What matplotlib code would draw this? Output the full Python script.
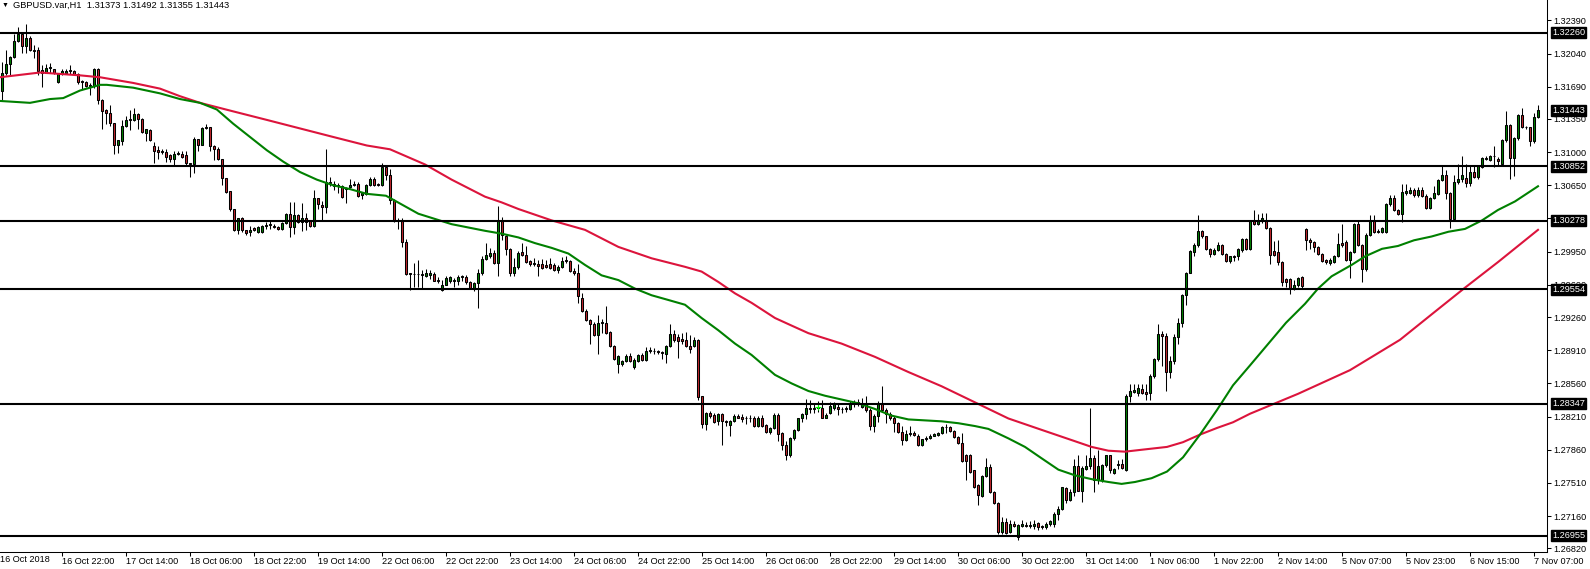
import matplotlib.pyplot as plt
from matplotlib import transforms

plt.rcParams['font.family'] = ['Liberation Sans', 'DejaVu Sans']

# Hourly GBPUSD bars, first bar is bar 1 (bar 0 sits just left of the chart edge)
opens = [
    1.3164, 1.3183, 1.3193, 1.3200, 1.3217, 1.3225, 1.3212, 1.3220, 1.3208, 1.3208,
    1.3187, 1.3184, 1.3189, 1.3188, 1.3174, 1.3184, 1.3183, 1.3186, 1.3186, 1.3182,
    1.3175, 1.3174, 1.3171, 1.3170, 1.3188, 1.3155, 1.3144, 1.3141, 1.3131, 1.3107,
    1.3112, 1.3128, 1.3134, 1.3134, 1.3140, 1.3135, 1.3120, 1.3123, 1.3106, 1.3102,
    1.3101, 1.3100, 1.3097, 1.3093, 1.3098, 1.3098, 1.3097, 1.3089, 1.3088, 1.3114,
    1.3108, 1.3125, 1.3126, 1.3106, 1.3103, 1.3093, 1.3073, 1.3059, 1.3040, 1.3018,
    1.3031, 1.3018, 1.3016, 1.3020, 1.3016, 1.3016, 1.3022, 1.3023, 1.3022, 1.3021,
    1.3019, 1.3025, 1.3035, 1.3021, 1.3034, 1.3026, 1.3030, 1.3027, 1.3022, 1.3052,
    1.3044, 1.3042, 1.3068, 1.3064, 1.3064, 1.3064, 1.3061, 1.3063, 1.3065, 1.3066,
    1.3055, 1.3056, 1.3065, 1.3072, 1.3066, 1.3065, 1.3084, 1.3076, 1.3050, 1.3028,
    1.3027, 1.3005, 1.2972, 1.2971, 1.2971, 1.2971, 1.2969, 1.2970, 1.2971, 1.2965,
    1.2955, 1.2960, 1.2964, 1.2965, 1.2964, 1.2968, 1.2968, 1.2963, 1.2957, 1.2962,
    1.2972, 1.2987, 1.2990, 1.2994, 1.2983, 1.3027, 1.3012, 1.2998, 1.2973, 1.2979,
    1.2995, 1.2991, 1.2985, 1.2982, 1.2982, 1.2982, 1.2981, 1.2982, 1.2981, 1.2976,
    1.2979, 1.2985, 1.2985, 1.2975, 1.2972, 1.2946, 1.2932, 1.2923, 1.2919, 1.2907,
    1.2920, 1.2920, 1.2910, 1.2895, 1.2877, 1.2876, 1.2880, 1.2885, 1.2873, 1.2880,
    1.2886, 1.2881, 1.2890, 1.2890, 1.2890, 1.2889, 1.2887, 1.2895, 1.2908, 1.2905,
    1.2903, 1.2902, 1.2895, 1.2895, 1.2902, 1.2843, 1.2813, 1.2825, 1.2823, 1.2816,
    1.2824, 1.2816, 1.2812, 1.2816, 1.2822, 1.2821, 1.2820, 1.2820, 1.2820, 1.2811,
    1.2819, 1.2812, 1.2805, 1.2809, 1.2823, 1.2804, 1.2791, 1.2780, 1.2798, 1.2807,
    1.2819, 1.2824, 1.2830, 1.2829, 1.2830, 1.2830, 1.2820, 1.2825, 1.2830, 1.2831,
    1.2829, 1.2830, 1.2829, 1.2834, 1.2836, 1.2831, 1.2834, 1.2828, 1.2811, 1.2822,
    1.2834, 1.2828, 1.2824, 1.2819, 1.2814, 1.2805, 1.2796, 1.2803, 1.2804, 1.2801,
    1.2791, 1.2797, 1.2798, 1.2801, 1.2802, 1.2804, 1.2810, 1.2810, 1.2806, 1.2799,
    1.2793, 1.2781, 1.2781, 1.2765, 1.2749, 1.2737, 1.2758, 1.2768, 1.2741, 1.2730,
    1.2699, 1.2710, 1.2699, 1.2708, 1.2694, 1.2706, 1.2707, 1.2706, 1.2706, 1.2709,
    1.2706, 1.2704, 1.2708, 1.2708, 1.2718, 1.2723, 1.2746, 1.2733, 1.2741, 1.2769,
    1.2743, 1.2766, 1.2769, 1.2777, 1.2754, 1.2754, 1.2770, 1.2780, 1.2761, 1.2771,
    1.2771, 1.2765, 1.2843, 1.2847, 1.2846, 1.2850, 1.2847, 1.2846, 1.2864, 1.2882,
    1.2908, 1.2906, 1.2868, 1.2880, 1.2905, 1.2920, 1.2949, 1.2973, 1.2995, 1.3002,
    1.3017, 1.3011, 1.2998, 1.2993, 1.2997, 1.3002, 1.2993, 1.2985, 1.2989, 1.2990,
    1.2997, 1.3008, 1.2998, 1.3027, 1.3024, 1.3027, 1.3027, 1.3020, 1.2996, 1.2995,
    1.2984, 1.2966, 1.2966, 1.2957, 1.2960, 1.2968, 1.3019, 1.3007, 1.3005, 1.3000,
    1.2993, 1.2986, 1.2983, 1.2984, 1.2990, 1.3004, 1.3005, 1.2986, 1.2995, 1.3024,
    1.3002, 1.2977, 1.3013, 1.3027, 1.3016, 1.3016, 1.3016, 1.3045, 1.3052, 1.3039,
    1.3035, 1.3057, 1.3057, 1.3060, 1.3055, 1.3060, 1.3054, 1.3041, 1.3052, 1.3056,
    1.3071, 1.3076, 1.3057, 1.3029, 1.3068, 1.3072, 1.3073, 1.3067, 1.3079, 1.3074,
    1.3084, 1.3093, 1.3092, 1.3096, 1.3093, 1.3088, 1.3113, 1.3129, 1.3094, 1.3115,
    1.3139, 1.3127, 1.3126, 1.3112, 1.31373,
]
highs = [
    1.3195, 1.3208, 1.3201, 1.3225, 1.3232, 1.3227, 1.3235, 1.3222, 1.3213, 1.3211,
    1.3192, 1.3193, 1.3194, 1.3188, 1.3183, 1.3188, 1.3188, 1.3192, 1.3187, 1.3183,
    1.3176, 1.3175, 1.3173, 1.3189, 1.3189, 1.3156, 1.3146, 1.3150, 1.3131, 1.3113,
    1.3134, 1.3138, 1.3144, 1.3147, 1.3141, 1.3136, 1.3124, 1.3124, 1.3111, 1.3106,
    1.3103, 1.3103, 1.3098, 1.3101, 1.3101, 1.3101, 1.3101, 1.3089, 1.3116, 1.3114,
    1.3127, 1.3130, 1.3127, 1.3107, 1.3105, 1.3093, 1.3073, 1.3059, 1.3040, 1.3031,
    1.3032, 1.3018, 1.3022, 1.3021, 1.3022, 1.3023, 1.3026, 1.3027, 1.3024, 1.3022,
    1.3026, 1.3036, 1.3047, 1.3047, 1.3035, 1.3046, 1.3036, 1.3028, 1.3060, 1.3052,
    1.3048, 1.3103, 1.3074, 1.3070, 1.3067, 1.3065, 1.3063, 1.3072, 1.3070, 1.3068,
    1.3058, 1.3066, 1.3074, 1.3074, 1.3067, 1.3089, 1.3085, 1.3082, 1.3051, 1.3030,
    1.3030, 1.3008, 1.2973, 1.2983, 1.2986, 1.2976, 1.2977, 1.2976, 1.2974, 1.2968,
    1.2965, 1.2969, 1.2969, 1.2967, 1.2970, 1.2970, 1.2970, 1.2964, 1.2963, 1.2977,
    1.2990, 1.3004, 1.2999, 1.2997, 1.3043, 1.3032, 1.3013, 1.2999, 1.2988, 1.2996,
    1.3004, 1.3001, 1.2986, 1.2988, 1.2986, 1.2987, 1.2986, 1.2988, 1.2983, 1.2981,
    1.2989, 1.2990, 1.2986, 1.2978, 1.2982, 1.2951, 1.2934, 1.2924, 1.2921, 1.2928,
    1.2924, 1.2938, 1.2911, 1.2896, 1.2886, 1.2881, 1.2887, 1.2888, 1.2883, 1.2887,
    1.2888, 1.2894, 1.2894, 1.2893, 1.2891, 1.2890, 1.2896, 1.2919, 1.2912, 1.2908,
    1.2909, 1.2910, 1.2907, 1.2905, 1.2903, 1.2843, 1.2826, 1.2827, 1.2825, 1.2825,
    1.2825, 1.2817, 1.2817, 1.2824, 1.2824, 1.2824, 1.2822, 1.2823, 1.2822, 1.2822,
    1.2823, 1.2813, 1.2810, 1.2825, 1.2825, 1.2805, 1.2795, 1.2799, 1.2808, 1.2820,
    1.2825, 1.2840, 1.2839, 1.2834, 1.2837, 1.2839, 1.2825, 1.2836, 1.2836, 1.2835,
    1.2831, 1.2832, 1.2837, 1.2838, 1.2840, 1.2841, 1.2843, 1.2830, 1.2824, 1.2837,
    1.2853, 1.2830, 1.2826, 1.2822, 1.2815, 1.2811, 1.2807, 1.2811, 1.2806, 1.2803,
    1.2797, 1.2800, 1.2803, 1.2804, 1.2805, 1.2811, 1.2813, 1.2811, 1.2807, 1.2800,
    1.2804, 1.2782, 1.2782, 1.2765, 1.2750, 1.2759, 1.2777, 1.2771, 1.2742, 1.2731,
    1.2715, 1.2714, 1.2712, 1.2711, 1.2708, 1.2712, 1.2710, 1.2711, 1.2712, 1.2710,
    1.2707, 1.2710, 1.2712, 1.2720, 1.2727, 1.2747, 1.2747, 1.2745, 1.2776, 1.2781,
    1.2769, 1.2781, 1.2830, 1.2780, 1.2786, 1.2771, 1.2781, 1.2781, 1.2767, 1.2775,
    1.2776, 1.2845, 1.2855, 1.2855, 1.2855, 1.2855, 1.2855, 1.2866, 1.2883, 1.2919,
    1.2911, 1.2909, 1.2885, 1.2908, 1.2925, 1.2950, 1.2974, 1.2997, 1.3004, 1.3034,
    1.3018, 1.3012, 1.2999, 1.2999, 1.3005, 1.3003, 1.2994, 1.2990, 1.2991, 1.2999,
    1.3009, 1.3009, 1.3028, 1.3039, 1.3035, 1.3036, 1.3036, 1.3021, 1.3006, 1.3007,
    1.2985, 1.2967, 1.2967, 1.2965, 1.2968, 1.2969, 1.3020, 1.3009, 1.3006, 1.3001,
    1.2994, 1.2987, 1.2988, 1.2991, 1.3015, 1.3024, 1.3007, 1.2996, 1.3025, 1.3027,
    1.3003, 1.3015, 1.3034, 1.3034, 1.3019, 1.3021, 1.3046, 1.3055, 1.3055, 1.3040,
    1.3066, 1.3066, 1.3063, 1.3062, 1.3063, 1.3063, 1.3056, 1.3053, 1.3064, 1.3072,
    1.3085, 1.3081, 1.3058, 1.3076, 1.3088, 1.3096, 1.3087, 1.3085, 1.3085, 1.3086,
    1.3095, 1.3096, 1.3097, 1.3106, 1.3095, 1.3114, 1.3143, 1.3130, 1.3116, 1.3140,
    1.3147, 1.3128, 1.3127, 1.3141, 1.31492,
]
lows = [
    1.3155, 1.3181, 1.3181, 1.3199, 1.3216, 1.3205, 1.3205, 1.3207, 1.3199, 1.3181,
    1.3169, 1.3184, 1.3183, 1.3182, 1.3173, 1.3181, 1.3182, 1.3182, 1.3181, 1.3172,
    1.3167, 1.3169, 1.3160, 1.3168, 1.3151, 1.3124, 1.3130, 1.3128, 1.3098, 1.3099,
    1.3107, 1.3126, 1.3123, 1.3133, 1.3124, 1.3120, 1.3112, 1.3112, 1.3089, 1.3093,
    1.3098, 1.3090, 1.3090, 1.3086, 1.3097, 1.3094, 1.3085, 1.3074, 1.3078, 1.3101,
    1.3107, 1.3124, 1.3101, 1.3092, 1.3092, 1.3065, 1.3057, 1.3038, 1.3017, 1.3014,
    1.3016, 1.3013, 1.3012, 1.3017, 1.3015, 1.3015, 1.3019, 1.3019, 1.3020, 1.3018,
    1.3018, 1.3024, 1.3010, 1.3014, 1.3025, 1.3017, 1.3018, 1.3021, 1.3021, 1.3040,
    1.3028, 1.3036, 1.3064, 1.3060, 1.3057, 1.3052, 1.3046, 1.3062, 1.3064, 1.3053,
    1.3051, 1.3055, 1.3064, 1.3064, 1.3064, 1.3064, 1.3071, 1.3045, 1.3026, 1.3019,
    1.3000, 1.2970, 1.2955, 1.2958, 1.2958, 1.2957, 1.2968, 1.2966, 1.2964, 1.2962,
    1.2953, 1.2960, 1.2962, 1.2958, 1.2960, 1.2964, 1.2961, 1.2956, 1.2954, 1.2936,
    1.2970, 1.2986, 1.2988, 1.2982, 1.2969, 1.3007, 1.2992, 1.2969, 1.2969, 1.2977,
    1.2990, 1.2983, 1.2980, 1.2980, 1.2969, 1.2977, 1.2978, 1.2977, 1.2975, 1.2973,
    1.2978, 1.2983, 1.2974, 1.2970, 1.2941, 1.2931, 1.2922, 1.2898, 1.2906, 1.2887,
    1.2909, 1.2908, 1.2894, 1.2881, 1.2867, 1.2874, 1.2879, 1.2879, 1.2871, 1.2879,
    1.2880, 1.2880, 1.2888, 1.2887, 1.2887, 1.2882, 1.2878, 1.2894, 1.2900, 1.2883,
    1.2898, 1.2894, 1.2888, 1.2894, 1.2839, 1.2809, 1.2807, 1.2820, 1.2814, 1.2812,
    1.2791, 1.2811, 1.2800, 1.2815, 1.2819, 1.2815, 1.2813, 1.2815, 1.2810, 1.2810,
    1.2810, 1.2804, 1.2803, 1.2808, 1.2795, 1.2786, 1.2775, 1.2778, 1.2796, 1.2806,
    1.2815, 1.2818, 1.2825, 1.2825, 1.2826, 1.2819, 1.2819, 1.2824, 1.2828, 1.2823,
    1.2825, 1.2826, 1.2828, 1.2831, 1.2832, 1.2830, 1.2826, 1.2807, 1.2805, 1.2815,
    1.2826, 1.2814, 1.2817, 1.2805, 1.2804, 1.2791, 1.2795, 1.2800, 1.2800, 1.2790,
    1.2790, 1.2795, 1.2797, 1.2800, 1.2801, 1.2803, 1.2804, 1.2805, 1.2798, 1.2792,
    1.2773, 1.2754, 1.2762, 1.2746, 1.2728, 1.2736, 1.2757, 1.2740, 1.2729, 1.2697,
    1.2697, 1.2697, 1.2698, 1.2705, 1.2691, 1.2705, 1.2704, 1.2703, 1.2702, 1.2701,
    1.2702, 1.2702, 1.2706, 1.2705, 1.2712, 1.2722, 1.2730, 1.2732, 1.2737, 1.2742,
    1.2731, 1.2765, 1.2766, 1.2741, 1.2750, 1.2752, 1.2768, 1.2762, 1.2760, 1.2766,
    1.2766, 1.2764, 1.2836, 1.2846, 1.2843, 1.2845, 1.2838, 1.2838, 1.2862, 1.2880,
    1.2874, 1.2848, 1.2862, 1.2876, 1.2898, 1.2915, 1.2939, 1.2972, 1.2990, 1.3000,
    1.3009, 1.2997, 1.2989, 1.2992, 1.2996, 1.2992, 1.2984, 1.2983, 1.2985, 1.2986,
    1.2995, 1.2997, 1.2997, 1.3023, 1.3023, 1.3025, 1.3019, 1.2982, 1.2990, 1.2981,
    1.2959, 1.2958, 1.2950, 1.2955, 1.2958, 1.2957, 1.2997, 1.2998, 1.2995, 1.2992,
    1.2984, 1.2982, 1.2981, 1.2983, 1.2989, 1.3000, 1.2985, 1.2967, 1.2994, 1.3001,
    1.2963, 1.2975, 1.3011, 1.3015, 1.3015, 1.3015, 1.3015, 1.3043, 1.3038, 1.3034,
    1.3026, 1.3055, 1.3056, 1.3053, 1.3053, 1.3053, 1.3040, 1.3040, 1.3051, 1.3055,
    1.3070, 1.3051, 1.3020, 1.3028, 1.3066, 1.3069, 1.3063, 1.3064, 1.3073, 1.3072,
    1.3083, 1.3092, 1.3091, 1.3084, 1.3086, 1.3086, 1.3111, 1.3072, 1.3075, 1.3113,
    1.3125, 1.3124, 1.3106, 1.3110, 1.31355,
]
closes = [
    1.3183, 1.3193, 1.3200, 1.3217, 1.3225, 1.3212, 1.3220, 1.3208, 1.3207, 1.3186,
    1.3184, 1.3189, 1.3190, 1.3183, 1.3182, 1.3186, 1.3186, 1.3187, 1.3182, 1.3174,
    1.3174, 1.3170, 1.3170, 1.3188, 1.3155, 1.3143, 1.3141, 1.3131, 1.3107, 1.3113,
    1.3128, 1.3134, 1.3135, 1.3140, 1.3135, 1.3121, 1.3124, 1.3113, 1.3101, 1.3100,
    1.3100, 1.3095, 1.3093, 1.3098, 1.3099, 1.3095, 1.3089, 1.3088, 1.3114, 1.3108,
    1.3125, 1.3126, 1.3106, 1.3103, 1.3093, 1.3073, 1.3058, 1.3040, 1.3018, 1.3031,
    1.3018, 1.3015, 1.3018, 1.3018, 1.3021, 1.3022, 1.3023, 1.3024, 1.3021, 1.3019,
    1.3025, 1.3035, 1.3021, 1.3034, 1.3026, 1.3030, 1.3026, 1.3022, 1.3052, 1.3045,
    1.3042, 1.3068, 1.3067, 1.3066, 1.3065, 1.3053, 1.3062, 1.3065, 1.3066, 1.3054,
    1.3057, 1.3065, 1.3072, 1.3065, 1.3065, 1.3084, 1.3076, 1.3050, 1.3027, 1.3027,
    1.3005, 1.2971, 1.2971, 1.2971, 1.2971, 1.2970, 1.2973, 1.2973, 1.2964, 1.2964,
    1.2960, 1.2967, 1.2968, 1.2964, 1.2968, 1.2969, 1.2963, 1.2957, 1.2962, 1.2972,
    1.2987, 1.2991, 1.2994, 1.2983, 1.3027, 1.3013, 1.2998, 1.2973, 1.2979, 1.2994,
    1.2991, 1.2984, 1.2982, 1.2983, 1.2980, 1.2978, 1.2979, 1.2978, 1.2976, 1.2979,
    1.2985, 1.2986, 1.2975, 1.2972, 1.2948, 1.2932, 1.2923, 1.2919, 1.2907, 1.2920,
    1.2921, 1.2909, 1.2895, 1.2882, 1.2885, 1.2880, 1.2885, 1.2880, 1.2881, 1.2886,
    1.2881, 1.2890, 1.2891, 1.2890, 1.2889, 1.2888, 1.2895, 1.2908, 1.2902, 1.2901,
    1.2901, 1.2895, 1.2892, 1.2902, 1.2842, 1.2813, 1.2825, 1.2822, 1.2815, 1.2824,
    1.2816, 1.2815, 1.2816, 1.2822, 1.2820, 1.2818, 1.2819, 1.2819, 1.2811, 1.2819,
    1.2811, 1.2805, 1.2809, 1.2823, 1.2803, 1.2791, 1.2780, 1.2798, 1.2807, 1.2819,
    1.2824, 1.2830, 1.2829, 1.2830, 1.2831, 1.2820, 1.2823, 1.2832, 1.2834, 1.2829,
    1.2829, 1.2829, 1.2834, 1.2836, 1.2834, 1.2834, 1.2828, 1.2811, 1.2822, 1.2834,
    1.2828, 1.2824, 1.2819, 1.2814, 1.2805, 1.2796, 1.2803, 1.2804, 1.2802, 1.2791,
    1.2797, 1.2798, 1.2801, 1.2803, 1.2804, 1.2810, 1.2810, 1.2806, 1.2799, 1.2793,
    1.2774, 1.2774, 1.2763, 1.2747, 1.2738, 1.2758, 1.2768, 1.2741, 1.2730, 1.2699,
    1.2710, 1.2698, 1.2708, 1.2706, 1.2707, 1.2708, 1.2706, 1.2707, 1.2708, 1.2704,
    1.2705, 1.2708, 1.2711, 1.2718, 1.2724, 1.2747, 1.2733, 1.2741, 1.2769, 1.2743,
    1.2767, 1.2769, 1.2777, 1.2754, 1.2769, 1.2770, 1.2780, 1.2765, 1.2766, 1.2770,
    1.2767, 1.2843, 1.2848, 1.2849, 1.2851, 1.2846, 1.2845, 1.2864, 1.2882, 1.2908,
    1.2906, 1.2868, 1.2880, 1.2905, 1.2920, 1.2949, 1.2973, 1.2996, 1.3002, 1.3017,
    1.3011, 1.2998, 1.2993, 1.2997, 1.3002, 1.2993, 1.2985, 1.2990, 1.2990, 1.2998,
    1.3008, 1.2998, 1.3027, 1.3024, 1.3027, 1.3030, 1.3020, 1.2991, 1.2991, 1.2984,
    1.2963, 1.2963, 1.2957, 1.2960, 1.2967, 1.2959, 1.3007, 1.3005, 1.3000, 1.2993,
    1.2985, 1.2984, 1.2986, 1.2990, 1.3003, 1.3002, 1.2986, 1.2995, 1.3024, 1.3002,
    1.2977, 1.3013, 1.3027, 1.3016, 1.3017, 1.3020, 1.3045, 1.3052, 1.3039, 1.3035,
    1.3058, 1.3059, 1.3060, 1.3055, 1.3060, 1.3054, 1.3041, 1.3052, 1.3057, 1.3071,
    1.3076, 1.3057, 1.3029, 1.3068, 1.3072, 1.3076, 1.3067, 1.3079, 1.3074, 1.3085,
    1.3094, 1.3094, 1.3096, 1.3096, 1.3091, 1.3113, 1.3129, 1.3094, 1.3115, 1.3139,
    1.3126, 1.3126, 1.3112, 1.3137, 1.31443,
]

# moving averages (bar position, price)
red_ma_x = [0.5, 10.5, 20.5, 25.5, 33.8, 40.5, 45.5, 50.5, 58.8, 67.2, 75.5, 83.8, 92.2, 98,
            106.75, 113.4, 121.75, 125.9, 130.1, 138.4, 146.75, 155.1, 163.4, 171.75, 175.9,
            180.1, 184.25, 188.4, 194.25, 198.4, 202.6, 210.9, 219.25, 227.6, 235.9, 244.25,
            252.6, 260.9, 269.25, 273.4, 277.6, 281.75, 285.9, 292.25, 296.25, 300.5, 304.75,
            308.75, 313, 325, 338, 350.5, 358.75, 366.75, 375, 385]
red_ma_y = [1.3179, 1.3184, 1.3181, 1.3179, 1.3173, 1.3167, 1.3159, 1.3152, 1.3143, 1.3134,
            1.3125, 1.3116, 1.3107, 1.3103, 1.3087, 1.3071, 1.3053, 1.3047, 1.3040, 1.3028,
            1.3018, 1.3000, 1.2988, 1.2979, 1.2974, 1.2963, 1.2951, 1.2941, 1.2925, 1.2917,
            1.2909, 1.2898, 1.2884, 1.2868, 1.2853, 1.2836, 1.2819, 1.2807, 1.2795, 1.2789,
            1.2785, 1.2784, 1.2786, 1.2789, 1.2794, 1.2802, 1.2809, 1.2815, 1.2824, 1.2845,
            1.2870, 1.2902, 1.2930, 1.2957, 1.2984, 1.3018]
green_ma_x = [0.5, 8, 13, 16.3, 20.5, 25.5, 27.2, 33.8, 40.5, 45.5, 50.5, 54.7, 58.8, 63, 67.2,
              71.3, 75.5, 79.7, 83.8, 88, 92.2, 97, 105.1, 113.4, 121.75, 125.9, 130.1, 134.25,
              138.4, 142.6, 146.75, 150.9, 155.1, 159.25, 163.4, 167.6, 171.75, 175.9, 180.1,
              184.25, 188.4, 194.25, 198.4, 202.6, 206.75, 210.9, 215.1, 219.25, 223.4, 227.6,
              231.75, 235.9, 240.1, 244.25, 247.6, 252.6, 256.75, 260.9, 265.1, 269.25, 273.4,
              277.6, 280.9, 284.25, 288.4, 292.25, 296.25, 300.5, 304.75, 308.75, 313, 318,
              322, 326.75, 330, 333.4, 338.4, 341.75, 346, 350, 354, 358.4, 362.6, 366.75,
              371, 375, 379.25, 385]
green_ma_y = [1.3154, 1.3152, 1.3156, 1.3157, 1.3165, 1.3171, 1.3171, 1.3168, 1.3162, 1.3156,
              1.3152, 1.3145, 1.3130, 1.3116, 1.3102, 1.3090, 1.3079, 1.3071, 1.3065, 1.3061,
              1.3056, 1.3054, 1.3035, 1.3024, 1.3017, 1.3014, 1.3010, 1.3004, 1.2999, 1.2993,
              1.2981, 1.2970, 1.2965, 1.2956, 1.2949, 1.2944, 1.2939, 1.2925, 1.2912, 1.2898,
              1.2886, 1.2865, 1.2856, 1.2848, 1.2843, 1.2839, 1.2835, 1.2829, 1.2822, 1.2818,
              1.2817, 1.2816, 1.2814, 1.2811, 1.2808, 1.2798, 1.2789, 1.2777, 1.2765, 1.2759,
              1.2755, 1.2752, 1.2750, 1.2752, 1.2756, 1.2763, 1.2778, 1.2802, 1.2828, 1.2854,
              1.2875, 1.2900, 1.2920, 1.2940, 1.2956, 1.2969, 1.2981, 1.2990, 1.2998, 1.3001,
              1.3007, 1.3011, 1.3016, 1.3019, 1.3028, 1.3039, 1.3048, 1.3064]

levels = [1.32260, 1.30852, 1.30278, 1.29554, 1.28347, 1.26955]
price_ticks = [1.32390, 1.32040, 1.31690, 1.31350, 1.31000, 1.30650, 1.30300, 1.29950,
               1.29600, 1.29260, 1.28910, 1.28560, 1.28210, 1.27860, 1.27510, 1.27160, 1.26820]
time_labels = ['16 Oct 2018', '16 Oct 22:00', '17 Oct 14:00', '18 Oct 06:00', '18 Oct 22:00',
               '19 Oct 14:00', '22 Oct 06:00', '22 Oct 22:00', '23 Oct 14:00', '24 Oct 06:00',
               '24 Oct 22:00', '25 Oct 14:00', '26 Oct 06:00', '28 Oct 22:00', '29 Oct 14:00',
               '30 Oct 06:00', '30 Oct 22:00', '31 Oct 14:00', '1 Nov 06:00', '1 Nov 22:00',
               '2 Nov 14:00', '5 Nov 07:00', '5 Nov 23:00', '6 Nov 15:00', '7 Nov 07:00']
symbol = 'GBPUSD.var,H1'

W, H = 1590, 569
fig = plt.figure(figsize=(W / 100, H / 100), dpi=100)
ax = fig.add_axes([0, 17 / H, 1547 / W, 552 / H])

bull = '#008000'
bear = '#C0262C'
bars = list(range(1, len(closes) + 1))

# wicks
ax.vlines(bars, [min(l, o, c) for l, o, c in zip(lows, opens, closes)],
          [max(h, o, c) for h, o, c in zip(highs, opens, closes)],
          colors='black', linewidth=0.75, zorder=2)
# bodies
bottoms = [min(o, c) for o, c in zip(opens, closes)]
heights = [max(abs(c - o), 0.000005) for o, c in zip(opens, closes)]
colors = [bull if c > o else (bear if c < o else 'black') for o, c in zip(opens, closes)]
ax.bar(bars, heights, bottom=bottoms, width=0.5, color=colors, edgecolor='black',
       linewidth=0.75, zorder=3)

# moving averages
ax.plot(red_ma_x, red_ma_y, color='#DC143C', linewidth=1.5, zorder=4)
ax.plot(green_ma_x, green_ma_y, color='#008000', linewidth=1.5, zorder=4)

# marker left on the chart
ax.plot([205], [1.2831], marker='+', color='#00FF00', markersize=4, markeredgewidth=0.8, zorder=5)

# horizontal levels
for lv in levels:
    ax.axhline(lv, color='black', linewidth=1.5, zorder=5)

ax.set_xlim(0.5, 387.25)
ax.set_ylim(1.32605 - 0.0001055 * 552, 1.32605)

for side in ['left', 'top']:
    ax.spines[side].set_visible(False)
for side in ['right', 'bottom']:
    ax.spines[side].set_linewidth(0.75)

# price axis on the right
ax.yaxis.tick_right()
ax.set_yticks(price_ticks)
ax.set_yticklabels(['%.5f' % t for t in price_ticks])
ax.tick_params(axis='y', length=3, width=0.75, pad=1.5, labelsize=6.6, colors='black')

# time axis
pos = [16 * k for k in range(len(time_labels))]
ax.set_xticks(pos[1:])
ax.set_xticklabels(time_labels[1:], ha='left')
ax.tick_params(axis='x', length=3, width=0.75, pad=0.5, labelsize=6.6)
ax.text(0.5, -3.5 / 552, time_labels[0], transform=ax.get_xaxis_transform(),
        ha='left', va='top', fontsize=6.6, clip_on=False)

# black price boxes on the right
box_tr = transforms.blended_transform_factory(fig.transFigure, ax.transData)
for p in levels + [closes[-1]]:
    ax.text(1552 / W, p, '%.5f' % p, transform=box_tr, ha='left', va='center',
            fontsize=6.6, color='white', clip_on=False, zorder=10,
            bbox=dict(boxstyle='square,pad=0.12', facecolor='black', edgecolor='black'))

# header
fig.text(2 / W, 1 - 5 / H, '\u25bc', fontsize=5, ha='left', va='center', color='black')
fig.text(13 / W, 1 - 5 / H,
         '%s  %.5f %.5f %.5f %.5f' % (symbol, opens[-1], highs[-1], lows[-1], closes[-1]),
         fontsize=6.7, ha='left', va='center', color='black')

fig.savefig('out.png', dpi=100, facecolor='white')
